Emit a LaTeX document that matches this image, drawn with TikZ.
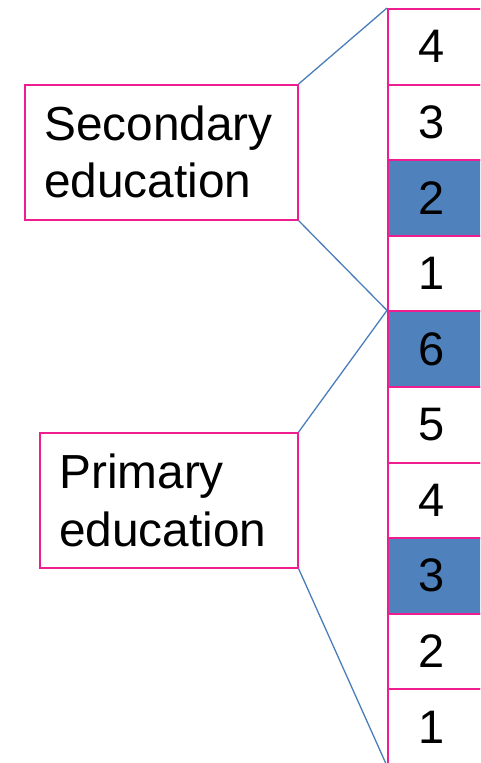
\documentclass[tikz,border=0pt]{standalone}
\usepackage{fontspec}
\setmainfont{Liberation Sans}
\definecolor{pk}{RGB}{238,30,145}
\definecolor{bl}{RGB}{79,129,189}
\definecolor{ln}{RGB}{74,126,187}
\begin{document}
\begin{tikzpicture}[x=1pt,y=-1pt,
  cell/.style={draw=pk,line width=2pt,minimum width=104pt,minimum height=75.6pt,anchor=north west,inner sep=0pt},
  hot/.style={cell,fill=bl},
  lbl/.style={draw=pk,line width=1.6pt,anchor=north west,inner sep=0pt},
  num/.style={font=\fontsize{47}{56}\selectfont,inner sep=0pt},
  txt/.style={font=\fontsize{47.8}{56}\selectfont,inner sep=0pt,anchor=base west},
  conn/.style={draw=ln,line width=1.3pt}]
\useasboundingbox (0,0) rectangle (480,763);
\clip (0,0) rectangle (480,763);
\fill[white] (0,0) rectangle (480,763);
\foreach \i/\n/\s in {0/4/cell,1/3/cell,2/2/hot,3/1/cell,4/6/hot,5/5/cell,6/4/cell,7/3/hot,8/2/cell,9/1/cell}{
  \node[\s] (c\i) at (387,{8+\i*75.6}) {};
  \node[num] (n\i) at (432,{8+\i*75.6+38.5}) {\n};
}
\node[lbl,minimum width=273pt,minimum height=135pt] (sec) at (24,84) {};
\node[lbl,minimum width=258pt,minimum height=135pt] (pri) at (39,432) {};
\node[txt] (s1) at (44,140) {Secondary};
\node[txt] (s2) at (44,197) {education};
\node[txt] (p1) at (59,488) {Primary};
\node[txt] (p2) at (59,546) {education};
\draw[conn] (sec.north east) -- (c0.north west);
\draw[conn] (sec.south east) -- (c4.north west);
\draw[conn] (pri.north east) -- (c4.north west);
\draw[conn] (pri.south east) -- (c9.south west);
\end{tikzpicture}
\end{document}
